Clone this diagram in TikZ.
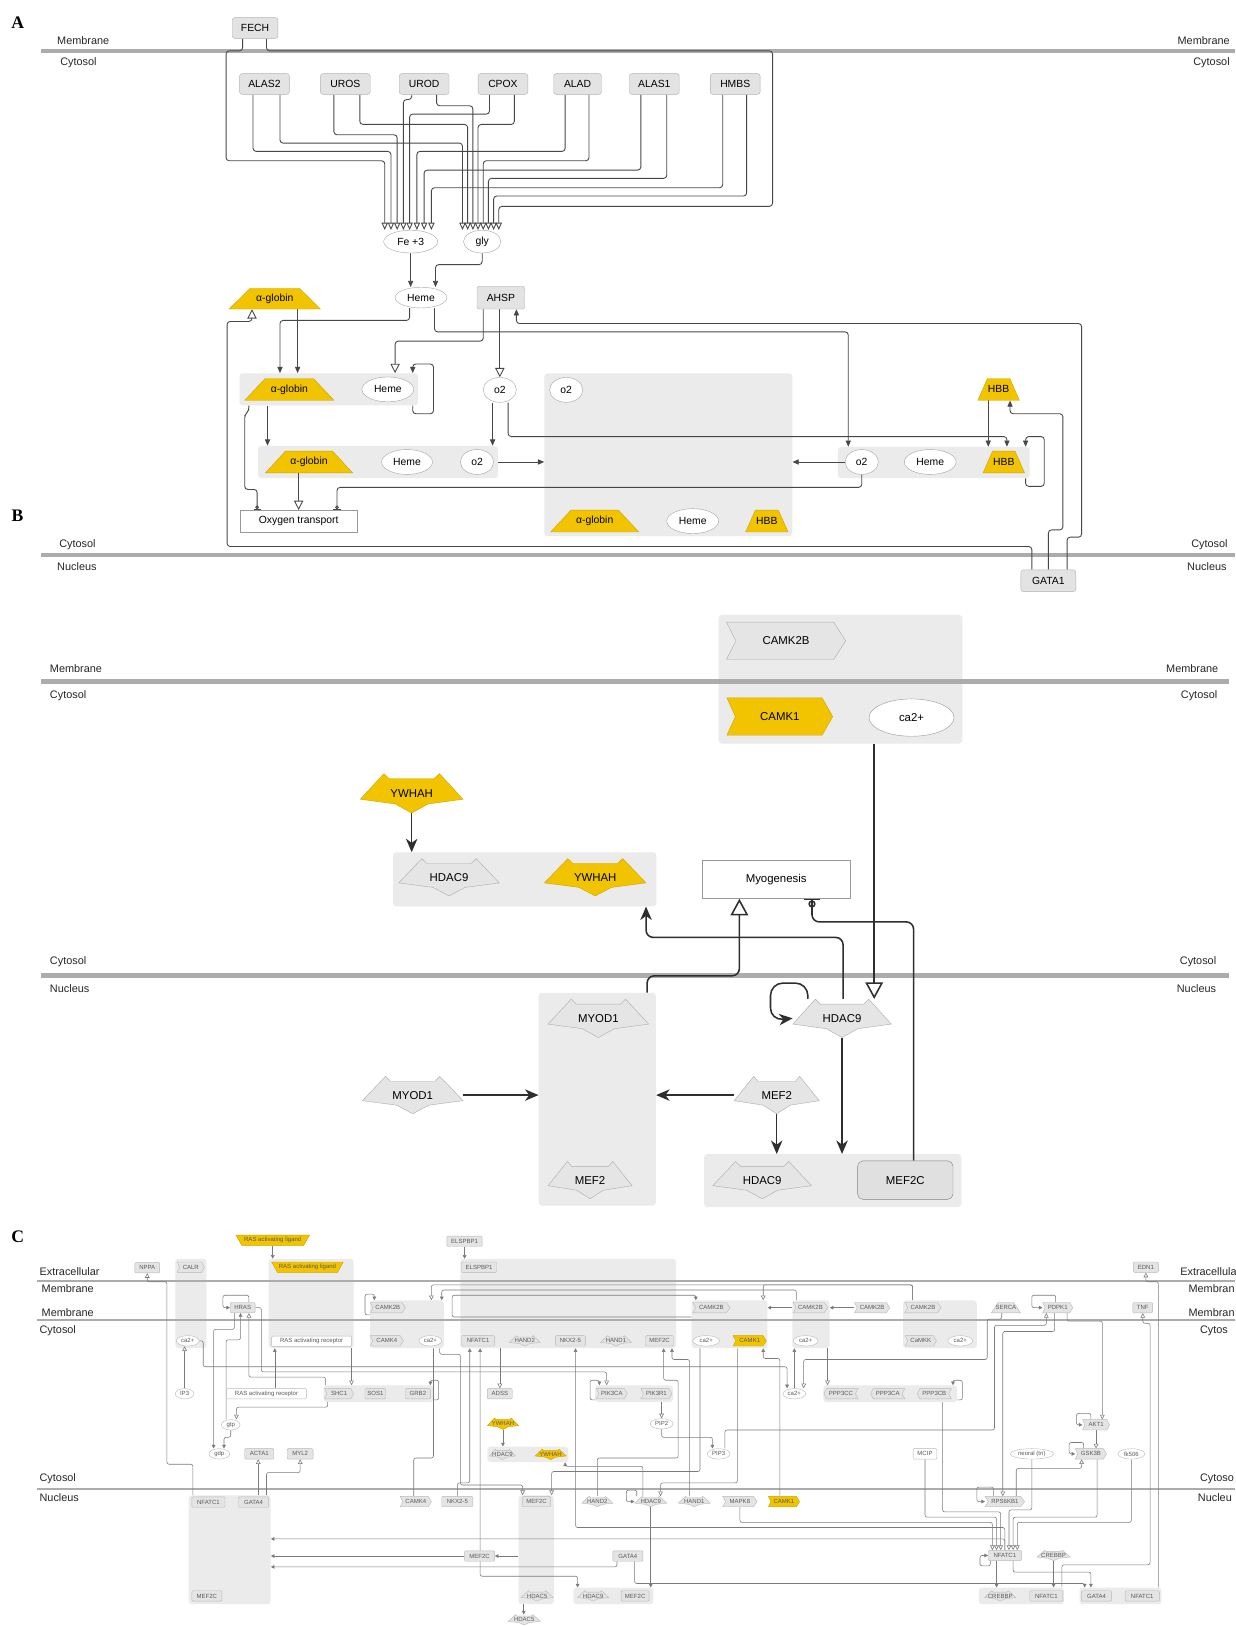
\documentclass[tikz,border=0pt]{standalone}
\usepackage{fontspec}
\setmainfont{Liberation Sans}
\newfontfamily\lserif{Liberation Serif}
\usetikzlibrary{arrows.meta,shapes.geometric}
\definecolor{gold}{RGB}{242,196,0}
\definecolor{golde}{RGB}{205,165,0}
\definecolor{nfill}{RGB}{228,228,228}
\definecolor{nedge}{RGB}{185,185,185}
\definecolor{cxfill}{RGB}{235,235,235}
\definecolor{membc}{RGB}{172,172,172}
\pgfdeclarelayer{cxl}
\pgfdeclarelayer{lnl}
\pgfsetlayers{cxl,lnl,main}
\newcommand\Ntrap[8]{\begin{scope}[shift={(#3,#4)},xscale=#5,yscale=#6]\path[#1] (-.5,.5)--(.5,.5)--(.27,-.5)--(-.27,-.5)--cycle;\end{scope}\node[#8,minimum width=#5pt,minimum height=#6pt] (#2) at (#3,#4) {#7};}
\newcommand\Nitrap[8]{\begin{scope}[shift={(#3,#4)},xscale=#5,yscale=#6]\path[#1] (-.5,-.5)--(.5,-.5)--(.42,.5)--(-.42,.5)--cycle;\end{scope}\node[#8,minimum width=#5pt,minimum height=#6pt] (#2) at (#3,#4) {#7};}
\newcommand\Nstar[8]{\begin{scope}[shift={(#3,#4)},xscale=#5,yscale=#6]\path[#1] (-.5,.15)--(-.27,-.5)--(-.22,-.37)--(.22,-.37)--(.27,-.5)--(.5,.15)--(.16,.27)--(0,.5)--(-.16,.27)--cycle;\end{scope}\node[#8,minimum width=#5pt,minimum height=#6pt] (#2) at (#3,#4) {#7};}
\newcommand\Nchev[8]{\begin{scope}[shift={(#3,#4)},xscale=#5,yscale=#6]\path[#1] (-.5,-.5)--(.4,-.5)--(.5,0)--(.4,.5)--(-.5,.5)--(-.42,0)--cycle;\end{scope}\node[#8,minimum width=#5pt,minimum height=#6pt] (#2) at (#3,#4) {#7};}
\newcommand\Nrchev[8]{\begin{scope}[shift={(#3,#4)},xscale=#5,yscale=#6]\path[#1] (-.5,0)--(-.42,-.5)--(.5,-.5)--(.42,0)--(.5,.5)--(-.42,.5)--cycle;\end{scope}\node[#8,minimum width=#5pt,minimum height=#6pt] (#2) at (#3,#4) {#7};}
\begin{document}
\begin{tikzpicture}[x=1pt,y=-1pt,
 lab/.style={inner sep=0, font=\fontsize{10.5}{12}\selectfont, text=black!85},
 pl/.style={inner sep=0, font=\lserif\bfseries\fontsize{17}{17}\selectfont},
 mema/.style={draw=membc, line width=3.5pt},
 memB/.style={draw=membc, line width=5pt},
 memC/.style={draw=membc, line width=2pt},
 cx/.style={fill=cxfill, draw=none, rounded corners=3pt, inner sep=0},
 abox/.style={draw=black!30, fill=black!11, rounded corners=2.5pt, minimum height=20pt, inner sep=1pt, font=\fontsize{10}{11}\selectfont},
 aell/.style={ellipse, draw=black!35, fill=white, inner sep=0, minimum height=22pt, font=\fontsize{10}{11}\selectfont},
 atext/.style={inner sep=0, font=\fontsize{10}{11}\selectfont},
 ysh/.style={draw=golde, fill=gold},
 bsh/.style={draw=black!32, fill=black!10},
 btext/.style={inner sep=0, font=\fontsize{11}{12}\selectfont},
 csh/.style={draw=nedge, fill=nfill, line width=0.4pt},
 cysh/.style={draw=golde, fill=gold, line width=0.4pt},
 ctext/.style={inner sep=0, font=\fontsize{5.8}{6}\selectfont, text=black!65},
 cbox/.style={draw=nedge, fill=nfill, rounded corners=1pt, inner sep=0.5pt, minimum height=10pt, font=\fontsize{5.8}{6}\selectfont, text=black!65},
 cwbox/.style={cbox, fill=white},
 cell/.style={ellipse, draw=nedge, fill=white, inner sep=0, minimum height=10pt, font=\fontsize{5.8}{6}\selectfont, text=black!65},
 aln/.style={draw=black!72, line width=0.85pt, rounded corners=3pt},
 afl/.style={aln, -{Triangle[length=6pt,width=5pt]}},
 aop/.style={aln, -{Triangle[open,length=7pt,width=6pt]}},
 aopb/.style={aln, -{Triangle[open,length=9pt,width=9pt]}},
 amod/.style={aln, -{Circle[open,length=3.5pt,width=3.5pt] Bar[width=7pt]}},
 bln/.style={draw=black!82, line width=1.5pt, rounded corners=7pt},
 bfl/.style={bln, -{Stealth[length=13pt,width=11pt,inset=4pt]}},
 bop/.style={bln, -{Triangle[open,length=16pt,width=17pt]}},
 binh/.style={bln, -{Circle[open,length=7pt,width=7pt] Bar[width=15pt]}},
 cln/.style={draw=black!52, line width=0.55pt, rounded corners=2pt},
 cfl/.style={cln, -{Triangle[length=3.5pt,width=3.5pt]}},
 cop/.style={cln, -{Triangle[open,length=4.5pt,width=4.5pt]}},
 cbi/.style={cln, {Triangle[length=3.5pt,width=3.5pt]}-{Triangle[length=3.5pt,width=3.5pt]}}
]
\useasboundingbox (0,0) rectangle (1191,1568);
\begin{pgfonlayer}{cxl}
\fill[white] (0,0) rectangle (1191,1568);
% panel A complexes
\node[cx, minimum width=172pt, minimum height=31pt] (cx1) at (317,375.5) {};
\node[cx, minimum width=239pt, minimum height=157pt] (bigcx) at (644.5,438.5) {};
\node[cx, minimum width=231pt, minimum height=31pt] (cx2) at (364.5,445.5) {};
\node[cx, minimum width=185pt, minimum height=30pt] (cx3) at (900.5,446) {};
% panel B complexes
\node[cx, minimum width=235pt, minimum height=124pt] (bCAMK) at (810.5,655) {};
\node[cx, minimum width=254pt, minimum height=52pt] (bcx1) at (506,848) {};
\node[cx, minimum width=113pt, minimum height=205pt] (bcol) at (576,1060) {};
\node[cx, minimum width=248pt, minimum height=51pt] (bcx2) at (803,1138.5) {};
% panel C complexes
\node[cx, minimum width=30pt, minimum height=86pt] (cCALR) at (184,1257) {};
\node[cx, minimum width=82pt, minimum height=86pt] (cRAS) at (300,1257) {};
\node[cx, minimum width=71pt, minimum height=46pt] (cC1) at (392.5,1277) {};
\node[cx, minimum width=208pt, minimum height=86pt] (cELS) at (548,1257) {};
\node[cx, minimum width=73pt, minimum height=46pt] (cC2) at (703.5,1277) {};
\node[cx, minimum width=36pt, minimum height=46pt] (cC3) at (782,1277) {};
\node[cx, minimum width=71pt, minimum height=46pt] (cC4) at (906.5,1277) {};
\node[cx, minimum width=106pt, minimum height=16pt] (cSHC) at (365,1344) {};
\node[cx, minimum width=75pt, minimum height=16pt] (cPIK) at (611.5,1344) {};
\node[cx, minimum width=129pt, minimum height=16pt] (cPPP) at (858.5,1344) {};
\node[cx, minimum width=78pt, minimum height=15pt] (cC8) at (509,1402.5) {};
\node[cx, minimum width=79pt, minimum height=105pt] (cCol) at (221.5,1494.5) {};
\node[cx, minimum width=34pt, minimum height=105pt] (cMEF) at (517,1494.5) {};
\node[cx, minimum width=77pt, minimum height=16pt] (cC11) at (591.5,1539) {};
\node[cx, minimum width=82pt, minimum height=16pt] (cC12) at (985,1539) {};
\node[cx, minimum width=79pt, minimum height=16pt] (cC13) at (1080.5,1539) {};
\end{pgfonlayer}

% ---------- labels ----------
\node[pl] (LA) at (17,22) {A};
\node[pl] (LB) at (17,497) {B};
\node[pl] (LC) at (17,1193) {C};
\node[lab, anchor=west] (a1) at (55,39) {Membrane};
\node[lab, anchor=west] (a2) at (58,60) {Cytosol};
\node[lab, anchor=east] (a3) at (1186,39) {Membrane};
\node[lab, anchor=east] (a4) at (1186,60) {Cytosol};
\node[lab, anchor=west] (a5) at (57,525) {Cytosol};
\node[lab, anchor=west] (a6) at (55,546) {Nucleus};
\node[lab, anchor=east] (a7) at (1184,525) {Cytosol};
\node[lab, anchor=east] (a8) at (1183,546) {Nucleus};
\node[lab, anchor=west] (b1) at (48,645) {Membrane};
\node[lab, anchor=west] (b2) at (48,671) {Cytosol};
\node[lab, anchor=east] (b3) at (1175,645) {Membrane};
\node[lab, anchor=east] (b4) at (1174,671) {Cytosol};
\node[lab, anchor=west] (b5) at (48,927) {Cytosol};
\node[lab, anchor=west] (b6) at (48,953) {Nucleus};
\node[lab, anchor=east] (b7) at (1173,927) {Cytosol};
\node[lab, anchor=east] (b8) at (1173,953) {Nucleus};
\node[lab, anchor=west] (c1) at (38,1226) {Extracellular};
\node[lab, anchor=west] (c2) at (40,1243) {Membrane};
\node[lab, anchor=west] (c3) at (40,1266) {Membrane};
\node[lab, anchor=west] (c4) at (38,1283) {Cytosol};
\node[lab, anchor=west] (c5) at (38,1426) {Cytosol};
\node[lab, anchor=west] (c6) at (38,1444) {Nucleus};
\node[lab, anchor=west] (c7) at (1138,1226) {Extracellula};
\node[lab, anchor=west] (c8) at (1146,1243) {Membran};
\node[lab, anchor=west] (c9) at (1146,1266) {Membran};
\node[lab, anchor=west] (c10) at (1157,1283) {Cytos};
\node[lab, anchor=west] (c11) at (1157,1426) {Cytoso};
\node[lab, anchor=west] (c12) at (1155,1444) {Nucleu};

% ---------- panel A nodes ----------
\node[abox, minimum width=44pt] (FECH) at (246,27) {FECH};
\node[abox, minimum width=48pt] (ALAS2) at (255,81) {ALAS2};
\node[abox, minimum width=48pt] (UROS) at (333,81) {UROS};
\node[abox, minimum width=48pt] (UROD) at (409,81) {UROD};
\node[abox, minimum width=48pt] (CPOX) at (485,81) {CPOX};
\node[abox, minimum width=46pt] (ALAD) at (557,81) {ALAD};
\node[abox, minimum width=48pt] (ALAS1) at (631,81) {ALAS1};
\node[abox, minimum width=48pt] (HMBS) at (709,81) {HMBS};
\node[aell, minimum width=52pt] (Fe3) at (396,233) {Fe +3};
\node[aell, minimum width=36pt] (gly) at (465,233) {gly};
\node[aell, minimum width=50pt, minimum height=20pt] (HemeA) at (406,287) {Heme};
\node[abox, minimum width=46pt, minimum height=22pt] (AHSP) at (483,287) {AHSP};
\Ntrap{ysh}{ag0}{265}{288}{88}{20}{α-globin}{atext}
\Ntrap{ysh}{ag1}{279}{375.5}{86}{21}{α-globin}{atext}
\node[aell, minimum width=50pt, minimum height=24pt] (Heme1) at (374,375.5) {Heme};
\node[aell, minimum width=32pt, minimum height=24pt] (o2a) at (482,376) {o2};
\node[aell, minimum width=32pt, minimum height=24pt] (o2big) at (546,376) {o2};
\Ntrap{ysh}{agbig}{573.5}{502.5}{85}{21}{α-globin}{atext}
\node[aell, minimum width=50pt, minimum height=24pt] (Hemebig) at (668,502.5) {Heme};
\Ntrap{ysh}{HBBbig}{739.5}{502.5}{41}{21}{HBB}{atext}
\Ntrap{ysh}{ag2}{298}{445.5}{84}{21}{α-globin}{atext}
\node[aell, minimum width=49pt, minimum height=24pt] (Heme2) at (392.5,445.5) {Heme};
\node[aell, minimum width=32pt, minimum height=24pt] (o2b) at (460,445.5) {o2};
\node[aell, minimum width=32pt, minimum height=24pt] (o2c) at (831,445.5) {o2};
\node[aell, minimum width=50pt, minimum height=24pt] (Heme3) at (897,445.5) {Heme};
\Ntrap{ysh}{HBB3}{968}{445.5}{40}{21}{HBB}{atext}
\Ntrap{ysh}{HBBt}{963}{375.5}{40}{21}{HBB}{atext}
\node[draw=black!40, fill=white, minimum width=113pt, minimum height=21pt, inner sep=0, font=\fontsize{10}{11}\selectfont] (OT) at (288,502.5) {Oxygen transport};
\node[abox, minimum width=53pt, minimum height=21pt] (GATA1) at (1011,560) {GATA1};

% ---------- panel B nodes ----------
\Nchev{bsh}{CAMK2Bb}{758}{618}{115}{36}{CAMK2B}{btext}
\Nchev{ysh}{CAMK1b}{752}{691}{102}{36}{CAMK1}{btext}
\node[ellipse, draw=black!40, fill=white, minimum width=82pt, minimum height=36pt, btext] (ca2B) at (879,692) {ca2+};
\Nstar{ysh}{YWH1}{397}{765}{99}{38}{YWHAH}{btext}
\Nstar{bsh}{HD9a}{433}{846}{97}{36}{HDAC9}{btext}
\Nstar{ysh}{YWH2}{574}{846}{98}{36}{YWHAH}{btext}
\node[draw=black!40, fill=white, minimum width=143pt, minimum height=37pt, btext] (Myo) at (748.5,848) {Myogenesis};
\Nstar{bsh}{MYOc}{577}{982}{97}{37}{MYOD1}{btext}
\Nstar{bsh}{MEF2c}{569}{1138}{81}{36}{MEF2}{btext}
\Nstar{bsh}{HD9n}{812}{982}{95}{37}{HDAC9}{btext}
\Nstar{bsh}{MYOl}{398}{1056}{97}{36}{MYOD1}{btext}
\Nstar{bsh}{MEF2r}{749}{1056}{82}{36}{MEF2}{btext}
\Nstar{bsh}{HD9m}{735}{1138}{95}{36}{HDAC9}{btext}
\node[draw=black!50, fill=black!12, rounded corners=5pt, minimum width=92pt, minimum height=37pt, btext] (MEF2Cb) at (873,1138) {MEF2C};

% ---------- panel C nodes ----------
\Nitrap{cysh}{RASL1}{263}{1196}{71}{10}{RAS activating ligand}{ctext}
\node[cbox, minimum width=34pt] (ELS1) at (448,1197) {ELSPBP1};
\node[cbox, minimum width=24pt] (NPPA) at (142,1222.5) {NPPA};
\Nchev{csh}{CALR}{184}{1222}{26}{10}{CALR}{ctext}
\node[cell, minimum width=22pt] (ca2a) at (181,1293) {ca2+};
\Nitrap{cysh}{RASL2}{296.5}{1222}{69}{10}{RAS activating ligand}{ctext}
\node[cwbox, minimum width=77pt] (RASR1) at (300.5,1293.5) {RAS activating receptor};
\node[cbox, minimum width=24pt] (HRAS) at (234,1261) {HRAS};
\Nchev{csh}{CK2Ba}{374}{1261}{34}{10}{CAMK2B}{ctext}
\Nchev{csh}{CK4a}{373}{1293}{32}{10}{CAMK4}{ctext}
\node[cell, minimum width=22pt] (ca2b) at (415,1293) {ca2+};
\node[cbox, minimum width=34pt] (ELS2) at (462,1222) {ELSPBP1};
\node[cbox, minimum width=32pt] (NFa) at (461,1293) {NFATC1};
\Nstar{csh}{HAND2a}{506}{1293}{30}{10}{HAND2}{ctext}
\node[cbox, minimum width=29pt] (NKXa) at (550,1293) {NKX2-5};
\Nstar{csh}{HAND1a}{594}{1293}{30}{10}{HAND1}{ctext}
\node[cbox, minimum width=27pt] (MEFa) at (636,1293) {MEF2C};
\Nchev{csh}{CK2Bb}{686}{1261}{36}{10}{CAMK2B}{ctext}
\node[cell, minimum width=26pt] (ca2c) at (681,1293) {ca2+};
\Nchev{cysh}{CK1a}{723}{1293}{32}{10}{CAMK1}{ctext}
\Nchev{csh}{CK2Bc}{781.5}{1261}{33}{10}{CAMK2B}{ctext}
\node[cell, minimum width=24pt] (ca2e) at (777,1293) {ca2+};
\Nchev{csh}{CK2Bd}{841}{1261}{34}{10}{CAMK2B}{ctext}
\Nchev{csh}{CK2Be}{890}{1261}{35}{10}{CAMK2B}{ctext}
\Nchev{csh}{CaMKK}{888}{1293}{30}{10}{CaMKK}{ctext}
\node[cell, minimum width=24pt] (ca2f) at (926,1293) {ca2+};
\Ntrap{csh}{SERCA}{970}{1261}{28}{10}{SERCA}{ctext}
\Nchev{csh}{PDPK1}{1020}{1261}{29}{10}{PDPK1}{ctext}
\node[cbox, minimum width=19pt] (TNF) at (1102,1261) {TNF};
\node[cbox, minimum width=24pt] (EDN1) at (1105,1222) {EDN1};
\node[cell, minimum width=18pt] (IP3) at (178,1344) {IP3};
\node[cwbox, minimum width=77pt] (RASR2) at (257,1344) {RAS activating receptor};
\Nchev{csh}{SHC1}{327}{1344}{28}{10}{SHC1}{ctext}
\node[cbox, minimum width=20pt] (SOS1) at (362,1344) {SOS1};
\node[cbox, minimum width=24pt] (GRB2) at (403,1344) {GRB2};
\node[cbox, minimum width=24pt] (ADSS) at (482,1344) {ADSS};
\Nchev{csh}{PIK3CA}{590}{1344}{30}{10}{PIK3CA}{ctext}
\Nchev{csh}{PIK3R1}{633}{1344}{30}{10}{PIK3R1}{ctext}
\node[cell, minimum width=22pt] (ca2d) at (766,1344) {ca2+};
\Nrchev{csh}{PPPCC}{811}{1344}{33}{10}{PPP3CC}{ctext}
\Nrchev{csh}{PPPCA}{856}{1344}{33}{10}{PPP3CA}{ctext}
\Nrchev{csh}{PPPCB}{901}{1344}{33}{10}{PPP3CB}{ctext}
\node[cell, minimum width=18pt] (gtp) at (222.5,1374) {gtp};
\node[cell, minimum width=20pt] (gdp) at (211.5,1402) {gdp};
\node[cbox, minimum width=28pt] (ACTA1) at (250,1402) {ACTA1};
\node[cbox, minimum width=25pt] (MYL2) at (289.5,1402) {MYL2};
\node[cell, minimum width=22pt] (PIP2) at (638,1373) {PIP2};
\node[cell, minimum width=22pt] (PIP3) at (693,1402) {PIP3};
\Nstar{cysh}{YWc1}{485}{1373}{30}{11}{YWHAH}{ctext}
\Nstar{csh}{HD9c1}{484.5}{1402.5}{25}{10}{HDAC9}{ctext}
\Nstar{cysh}{YWc2}{531}{1402.5}{30}{10}{YWHAH}{ctext}
\Nchev{csh}{AKT1}{1057}{1374}{26}{10}{AKT1}{ctext}
\Nchev{csh}{GSK3B}{1052}{1402}{30}{10}{GSK3B}{ctext}
\node[cwbox, minimum width=23pt] (MCIP) at (892,1402) {MCIP};
\node[cell, minimum width=42pt] (neoral) at (995,1402) {neoral (tn)};
\node[cell, minimum width=26pt] (fk506) at (1091,1402) {fk506};
\node[cbox, minimum width=32pt] (NFb) at (201,1448.5) {NFATC1};
\node[cbox, minimum width=29pt] (GATA4a) at (244.5,1448.5) {GATA4};
\node[cbox, minimum width=29pt] (MEFb) at (199.5,1539) {MEF2C};
\Nchev{csh}{CK4b}{401}{1448}{30}{10}{CAMK4}{ctext}
\node[cbox, minimum width=30pt] (NKXb) at (441,1448) {NKX2-5};
\node[cbox, minimum width=27pt] (MEFc) at (517.5,1448) {MEF2C};
\Nstar{csh}{HD5a}{518}{1539}{31}{10}{HDAC5}{ctext}
\Nstar{csh}{HD5b}{505.5}{1562}{31}{10}{HDAC5}{ctext}
\Nstar{csh}{HAND2b}{576}{1448}{30}{10}{HAND2}{ctext}
\Nstar{csh}{HD9b}{627.5}{1448}{31}{10}{HDAC9}{ctext}
\Nstar{csh}{HAND1b}{669.5}{1448}{31}{10}{HAND1}{ctext}
\Nchev{csh}{MAPK8}{713.5}{1448}{33}{10}{MAPK8}{ctext}
\Nchev{cysh}{CK1b}{756}{1448}{30}{10}{CAMK1}{ctext}
\node[cbox, minimum width=29pt] (MEFd) at (462.5,1500.5) {MEF2C};
\node[cbox, minimum width=29pt] (GATA4b) at (605.5,1500.5) {GATA4};
\Nstar{csh}{HD9d}{572}{1539}{30}{10}{HDAC9}{ctext}
\node[cbox, minimum width=27pt] (MEFe) at (612.5,1539) {MEF2C};
\Nchev{csh}{RPS6}{969}{1448}{38}{10}{RPS6KB1}{ctext}
\node[cbox, minimum width=32pt] (NFc) at (969,1500) {NFATC1};
\Nstar{csh}{CREa}{1016}{1500}{32}{10}{CREBBP}{ctext}
\Nstar{csh}{CREb}{964.5}{1539}{30}{10}{CREBBP}{ctext}
\node[cbox, minimum width=32pt] (NFd) at (1009,1539) {NFATC1};
\node[cbox, minimum width=29pt] (GATA4c) at (1057.5,1539) {GATA4};
\node[cbox, minimum width=33pt] (NFe) at (1101.5,1539) {NFATC1};

\begin{pgfonlayer}{lnl}
% membrane lines
\draw[mema] (40,49) -- (1191,49);
\draw[mema] (40,535) -- (1191,535);
\draw[memB] (40,657) -- (1185,657);
\draw[memB] (40,941) -- (1185,941);
\draw[memC] (36,1235) -- (1191,1235);
\draw[memC] (36,1273) -- (1191,1273);
\draw[memC] (36,1436) -- (1191,1436);

% ---------- panel A connectors ----------
\draw[aop] (FECH.south -| 234,0) -- (234,49) -- (218,49) -- (218,155) -- (371,155) -- (Fe3.north -| 371,0);
\draw[aop] (FECH.south -| 257,0) -- (257,49) -- (745,49) -- (745,199) -- (481,199) -- (gly.north -| 481,0);
\draw[aop] (ALAS2.south -| 244,0) -- (244,146) -- (377,146) -- (Fe3.north -| 377,0);
\draw[aop] (ALAS2.south -| 270,0) -- (270,138) -- (446,138) -- (gly.north -| 446,0);
\draw[aop] (UROS.south -| 322,0) -- (322,130) -- (383,130) -- (Fe3.north -| 383,0);
\draw[aop] (UROS.south -| 347,0) -- (347,120) -- (451,120) -- (gly.north -| 451,0);
\draw[aop] (UROD.south -| 397,0) -- (397,96) -- (389,96) -- (Fe3.north -| 389,0);
\draw[aop] (UROD.south -| 421,0) -- (421,102) -- (456,102) -- (gly.north -| 456,0);
\draw[aop] (CPOX.south -| 472,0) -- (472,110) -- (395,110) -- (Fe3.north -| 395,0);
\draw[aop] (CPOX.south -| 496,0) -- (496,120) -- (461,120) -- (gly.north -| 461,0);
\draw[aop] (ALAD.south -| 545,0) -- (545,146) -- (402,146) -- (Fe3.north -| 402,0);
\draw[aop] (ALAD.south -| 568,0) -- (568,155) -- (466,155) -- (gly.north -| 466,0);
\draw[aop] (ALAS1.south -| 618,0) -- (618,164) -- (409,164) -- (Fe3.north -| 409,0);
\draw[aop] (ALAS1.south -| 643,0) -- (643,172) -- (471,172) -- (gly.north -| 471,0);
\draw[aop] (HMBS.south -| 697,0) -- (697,181) -- (416,181) -- (Fe3.north -| 416,0);
\draw[aop] (HMBS.south -| 720,0) -- (720,189) -- (476,189) -- (gly.north -| 476,0);
\draw[afl] (Fe3.south) -- (Fe3.south |- HemeA.north);
\draw[afl] (gly.south) -- ++(0,11) -| ([xshift=14pt]HemeA.north);
\draw[afl] ([xshift=-11pt]HemeA.south) |- (270,309) -- (cx1.north -| 270,0);
\draw[afl] (ag0.south -| 287,0) -- (cx1.north -| 287,0);
\draw[aopb] (AHSP.south -| 466,0) |- (381,329) -- (cx1.north -| 381,0);
\draw[aopb] (AHSP.south -| 482,0) -- (o2a.north);
\draw[afl] ([xshift=13pt]HemeA.south) |- (818,320) -- (cx3.north -| 818,0);
\draw[afl] (cx1.south -| 398,0) -- (398,399) -- (418,399) -- (418,351) -- (398,351) -- (cx1.north -| 398,0);
\draw[afl] (cx1.south -| 258,0) -- (cx2.north -| 258,0);
\draw[amod] (cx1.south -| 240,0) -- (240,396) -- (236,400) -- (236,472) -- (248,472) -- (OT.north -| 248,0);
\draw[aopb] (ag2.south -| 288,0) -- (OT.north -| 288,0);
\draw[amod] (o2c.south) -- (831,470) -- (325,470) -- (OT.north -| 325,0);
\draw[afl] (o2a.south -| 475,0) -- (cx2.north -| 475,0);
\draw[afl] (o2a.south -| 490,0) |- (971,421) -- (cx3.north -| 971,0);
\draw[afl] (HBBt.south -| 953,0) -- (cx3.north -| 953,0);
\draw[afl] (cx3.south -| 989,0) -- (989,469) -- (1007,469) -- (1007,421) -- (989,421) -- (cx3.north -| 989,0);
\draw[afl] (o2c.west) -- (bigcx.east |- o2c);
\draw[afl] (cx2.east |- o2b) -- (bigcx.west |- o2b);
\draw[aopb] (GATA1.north -| 995,0) -- (995,527) -- (219,527) -- (219,310) -- (243,310) -- (ag0.south -| 243,0);
\draw[afl] (GATA1.north -| 1011,0) -- (1011,511) -- (1025,511) -- (1025,399) -- (974,399) -- (HBBt.south -| 974,0);
\draw[afl] (GATA1.north -| 1029,0) -- (1029,518) -- (1043,518) -- (1043,312) -- (498,312) -- (AHSP.south -| 498,0);

% ---------- panel B connectors ----------
\draw[bfl] (YWH1.south) -- (bcx1.north -| YWH1);
\draw[bop] (bCAMK.south -| 843,0) -- (HD9n.north -| 843,0);
\draw[bop] (bcol.north -| 624,0) |- (713,941) -- (Myo.south -| 713,0);
\draw[bfl] (HD9n.north -| 813,0) |- (623,904) -- (bcx1.south -| 623,0);
\draw[binh] (MEF2Cb.north -| 881,0) |- (783,889) -- (Myo.south -| 783,0);
\draw[bfl, rounded corners=12pt] (HD9n.north -| 779,0) -- (779,948) -- (743,948) -- (743,984) -- (HD9n.west);
\draw[bfl] (HD9n.south) -- (bcx2.north -| HD9n);
\draw[bfl] (MEF2r.south) -- (bcx2.north -| MEF2r);
\draw[bfl] (MEF2r.west) -- (bcol.east |- MEF2r);
\draw[bfl] (MYOl.east) -- (bcol.west |- MYOl);

% ---------- panel C connectors ----------
\draw[cfl] (RASL1.south) -- (cRAS.north -| RASL1);
\draw[cfl] (ELS1.south) -- (cELS.north -| ELS1);
\draw[cop] (cCol.north -| 186,0) -- (186,1412) -- (161,1412) -- (161,1236) -- (142,1236) -- (NPPA.south);
\draw[cop] (IP3.north) -- (IP3.north |- ca2a.south);
\draw[cfl] (ca2a.east) -- (196,1293) -- (196,1318) -- (759,1318) -- (ca2d.north -| 759,0);
\draw[cop] (HRAS.east) -- (252,1261) -- (252,1323) -- (585,1323) -- (cPIK.north -| 585,0);
\draw[cop] (cSHC.north -| 314,0) -- (314,1328) -- (240,1328) -- (HRAS.south -| 240,0);
\draw[cop] (cSHC.south -| 316,0) -- (316,1357) -- (228,1357) -- (gtp.north -| 228,0);
\draw[cfl] (gtp.south) -- (222.5,1386) -- (216,1386) -- (gdp.north -| 216,0);
\draw[cfl] (HRAS.south -| 226,0) -- (226,1282) -- (206,1282) -- (gdp.north -| 206,0);
\draw[cfl] (gtp.north -| 218,0) -- (218,1292) -- (232,1292) -- (HRAS.south -| 232,0);
\draw[cfl] (HRAS.north -| 240,0) -- (240,1249) -- (215,1249) -- (215,1261) -- (HRAS.west);
\draw[cfl] (RASR2.north -| 265,0) -- (cRAS.south -| 265,0);
\draw[cop] (cRAS.south -| 339,0) -- (cSHC.north -| 339,0);
\draw[cop] (cCol.north -| 249,0) -- (ACTA1.south -| 249,0);
\draw[cop] (cCol.north -| 257,0) -- (257,1420) -- (289.5,1420) -- (MYL2.south);
\draw[cfl] (cMEF.west |- MEFd) -- (MEFd.east);
\draw[cfl] (MEFd.west) -- (cCol.east |- MEFd);
\draw[cfl] (GATA4b.south -| 595,0) -- (595,1511) -- (cCol.east |- 0,1511);
\draw[cfl] (GATA4b.south -| 612,0) -- (612,1527) -- (1046,1527) -- (cC13.north -| 1046,0);
\draw[cfl] (HD9b.south) -- (cC11.north -| HD9b);
\draw[cbi] (cELS.south -| 463,0) -- (463,1520) -- (557,1520) -- (cC11.north -| 557,0);
\draw[cop] (cC1.south -| 424,0) -- (424,1306) -- (444,1306) -- (444,1432) -- (504,1432) -- (cMEF.north -| 504,0);
\draw[cfl] (NKXb.north) -- (441,1430) -- (453,1430) -- (cELS.south -| 453,0);
\draw[cop] (cC2.south -| 675,0) -- (675,1419) -- (532,1419) -- (cMEF.north -| 532,0);
\draw[cop] (cC2.south -| 711,0) -- (711,1430) -- (637,1430) -- (HD9b.north -| 637,0);
\draw[cfl] (HAND2b.north) -- (576,1406) -- (654,1406) -- (654,1331) -- (640,1331) -- (cELS.south -| 640,0);
\draw[cfl] (HAND1b.north -| 665,0) -- (665,1311) -- (648,1311) -- (cELS.south -| 648,0);
\draw[cfl] (NFc.north -| 969,0) -- (969,1473) -- (555,1473) -- (cELS.south -| 555,0);
\draw[cfl] (NFc.north -| 969,0) -- (969,1484) -- (cCol.east |- 0,1484);
\draw[cln] (cC1.south -| 418,0) -- (418,1406) -- (399,1406) -- (CK4b.north -| 399,0);
\draw[cfl] (cC3.west |- CK2Bc) -- (cC2.east |- CK2Bc);
\draw[cfl] (CK2Bd.west) -- (cC3.east |- CK2Bd);
\draw[cop] (cC3.south -| 798,0) -- (cPPP.north -| 798,0);
\draw[cfl] (cC3.north -| 768,0) -- (768,1244) -- (426,1244) -- (cC1.north -| 426,0);
\draw[cop] (cC4.north -| 880,0) -- (880,1239) -- (416,1239) -- (cC1.north -| 416,0);
\draw[cop] (cC4.north -| 880,0) -- (880,1239) -- (736,1239) -- (cC2.north -| 736,0);
\draw[cfl] (cC2.west |- 0,1270) -- (436,1270) -- (436,1249) -- (671,1249) -- (cC2.north -| 671,0);
\draw[cfl] (cC1.west |- 0,1268) -- (352,1268) -- (352,1248) -- (361,1248) -- (cC1.north -| 361,0);
\draw[cop] (cELS.south -| 482,0) -- (ADSS.north);
\draw[cfl] (YWc1.south) -- (cC8.north -| YWc1);
\draw[cfl] (HD9b.north -| 620,0) -- (620,1414) -- (545,1414) -- (cC8.south -| 545,0);
\draw[cfl] (cPIK.west |- 0,1350) -- (569,1350) -- (569,1331) -- (578,1331) -- (cPIK.north -| 578,0);
\draw[cop] (cPIK.south -| 638,0) -- (PIP2.north);
\draw[cfl] (PIP2.south) -- (638,1386) -- (687,1386) -- (PIP3.north -| 687,0);
\draw[cop] (PIP3.north -| 699,0) -- (699,1379) -- (959,1379) -- (959,1278) -- (1009,1278) -- (PDPK1.south -| 1009,0);
\draw[cop] (PDPK1.south -| 1017,0) -- (1017,1284) -- (967,1284) -- (RPS6.north -| 967,0);
\draw[cfl] (PDPK1.north -| 1018,0) -- (1018,1249) -- (995,1249) -- (995,1261) -- (PDPK1.west);
\draw[cop] (PDPK1.south -| 1029,0) -- (1029,1274) -- (1063,1274) -- (AKT1.north -| 1063,0);
\draw[cfl] (AKT1.north -| 1052,0) -- (1052,1363) -- (1038,1363) -- (1038,1374) -- (AKT1.west);
\draw[cop] (AKT1.south) -- (AKT1.south |- GSK3B.north);
\draw[cfl] (GSK3B.north -| 1045,0) -- (1045,1391) -- (1031,1391) -- (1031,1402) -- (GSK3B.west);
\draw[cop] (RPS6.north -| 980,0) -- (980,1416) -- (1043,1416) -- (GSK3B.south -| 1043,0);
\draw[cfl] (RPS6.north -| 958,0) -- (958,1434) -- (942,1434) -- (942,1448) -- (RPS6.west);
\draw[cfl] (NFc.south -| 955,0) -- (955,1510) -- (945,1510) -- (945,1500) -- (NFc.west);
\draw[cop] (MCIP.south) -- (892,1463) -- (961,1463) -- (NFc.north -| 961,0);
\draw[cop] (cPPP.south -| 909,0) -- (909,1458) -- (965,1458) -- (NFc.north -| 965,0);
\draw[cop] (neoral.south) -- (995,1456) -- (973,1456) -- (NFc.north -| 973,0);
\draw[cop] (GSK3B.south -| 1058,0) -- (1058,1463) -- (977,1463) -- (NFc.north -| 977,0);
\draw[cop] (fk506.south) -- (1091,1468) -- (981,1468) -- (NFc.north -| 981,0);
\draw[cop] (MAPK8.south) -- (713.5,1468) -- (957,1468) -- (NFc.north -| 957,0);
\draw[cfl] (NFc.south -| 961,0) -- (cC12.north -| 961,0);
\draw[cfl] (CREa.south) -- (cC12.north -| CREa);
\draw[cfl] (NFc.south -| 977,0) -- (977,1516) -- (1052,1516) -- (cC13.north -| 1052,0);
\draw[cop] (cC12.north -| 1024,0) -- (1024,1509) -- (1109,1509) -- (1109,1276) -- (1102,1276) -- (TNF.south);
\draw[cop] (cC13.north -| 1117,0) -- (1117,1236) -- (1105,1236) -- (EDN1.south);
\draw[cfl] (cPPP.east |- 0,1350) -- (928,1350) -- (928,1331) -- (919,1331) -- (cPPP.north -| 919,0);
\draw[cfl] (cSHC.east |- 0,1350) -- (423,1350) -- (423,1331) -- (415,1331) -- (cSHC.north -| 415,0);
\draw[cfl] (cMEF.south -| 505,0) -- (HD5b.north -| 505,0);
\draw[cfl] (ca2d.north) -- (cC3.south -| ca2d);
\draw[cop] (SERCA.south -| 966,0) -- (966,1272) -- (952,1272) -- (952,1311) -- (775,1311) -- (ca2d.north -| 775,0);
\draw[cfl] (CK1b.north -| 752,0) -- (752,1310) -- (736,1310) -- (cC2.south -| 736,0);
\draw[cfl] (HD9b.north -| 614,0) -- (614,1437) -- (604,1437) -- (604,1448) -- (HD9b.west);
\end{pgfonlayer}
\end{tikzpicture}
\end{document}
